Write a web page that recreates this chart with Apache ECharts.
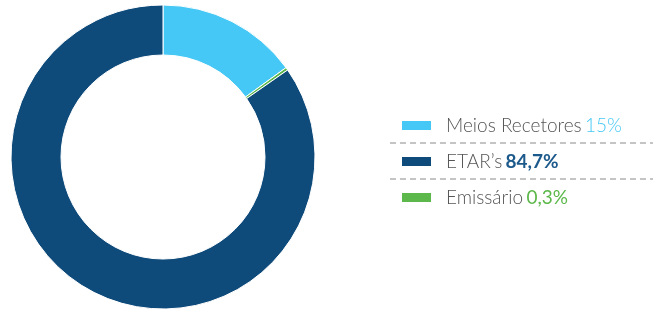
<!DOCTYPE html>
<html>
<head>
<meta charset="utf-8">
<script src="https://cdn.jsdelivr.net/npm/echarts@6/dist/echarts.min.js"></script>
<style>
html,body{margin:0;padding:0;background:#fff;}
#chart{width:653px;height:310px;}
</style>
</head>
<body>
<div id="chart"></div>
<script>
// slices in drawing order (clockwise from top)
var sliceNames = ['Meios Recetores', 'Emissário', 'ETAR\u2019s'];
var sliceValues = [15, 0.3, 84.7];
var sliceColors = ['#45c8f5', '#5cb84a', '#0e4a7a'];
// legend order and labels as printed
var legendNames = ['Meios Recetores', 'ETAR\u2019s', 'Emissário'];
var legendLabels = ['15%', '84,7%', '0,3%'];

var valStyle = {
	'Meios Recetores': 'va',
	'ETAR\u2019s': 'vb',
	'Emissário': 'vc'
};

var data = [];
for (var i = 0; i < sliceNames.length; i++) {
	data.push({
		name: sliceNames[i],
		value: sliceValues[i],
		itemStyle: {color: sliceColors[i]}
	});
}

var myChart = echarts.init(document.getElementById('chart'));
var option = {
	animation: false,
	legend: {
		orient: 'vertical',
		left: 400,
		top: 116,
		padding: 0,
		itemWidth: 31,
		itemHeight: 11,
		itemGap: 17,
		icon: 'rect',
		selectedMode: false,
		data: legendNames,
		formatter: function (name) {
			var idx = legendNames.indexOf(name);
			return '{n|' + name + '} {' + valStyle[name] + '|' + legendLabels[idx] + '}';
		},
		textStyle: {
			padding: [0, 0, 0, 9],
			rich: {
				n: {fontFamily: 'Lato', fontSize: 19, color: '#555', fontWeight: 300, height: 22},
				va: {fontFamily: 'Lato', fontSize: 19, color: '#45c8f5', fontWeight: 300},
				vb: {fontFamily: 'Lato', fontSize: 19, color: '#1d5a8c', fontWeight: 'bold'},
				vc: {fontFamily: 'Lato', fontSize: 19, color: '#5cb84a', fontWeight: 'normal'}
			}
		}
	},
	graphic: [
		{type: 'line', shape: {x1: 390, y1: 143, x2: 653, y2: 143},
			style: {stroke: '#8a8a8a', lineWidth: 1, lineDash: [6, 4]}},
		{type: 'line', shape: {x1: 390, y1: 179, x2: 653, y2: 179},
			style: {stroke: '#8a8a8a', lineWidth: 1, lineDash: [6, 4]}}
	],
	series: [{
		type: 'pie',
		center: [163, 157],
		radius: [102, 152],
		startAngle: 90,
		clockwise: true,
		label: {show: false},
		labelLine: {show: false},
		itemStyle: {borderColor: '#fff', borderWidth: 1},
		emphasis: {disabled: true},
		data: data
	}]
};
myChart.setOption(option);
</script>
</body>
</html>
